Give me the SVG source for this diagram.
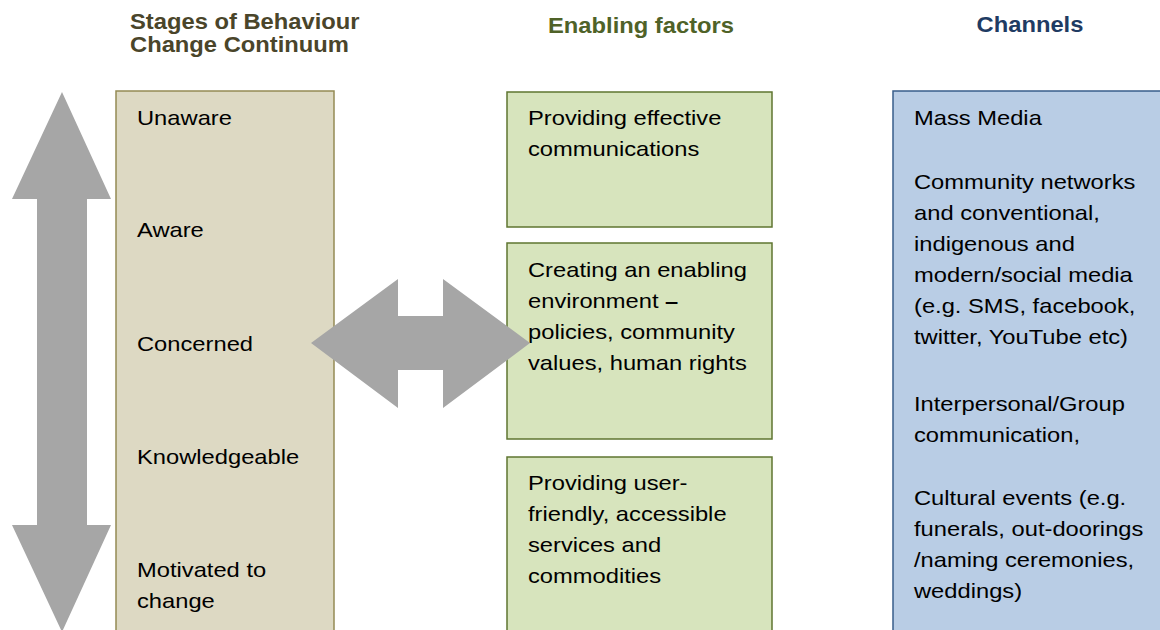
<svg xmlns="http://www.w3.org/2000/svg" width="1160" height="630" viewBox="0 0 1160 630">
<style>
.t{font-family:"Liberation Sans",Arial,sans-serif;font-size:21px;fill:#000}
.h{font-family:"Liberation Sans",Arial,sans-serif;font-size:22px;font-weight:bold}
.tan{fill:#ddd9c3;stroke:#948a54;stroke-width:1.5}
.grn{fill:#d7e4bd;stroke:#5f7530;stroke-width:1.5}
.blu{fill:#b9cde5;stroke:#385d8a;stroke-width:1.5}
.arr{fill:#a6a6a6;stroke:none}
</style>
<rect width="1160" height="630" fill="#fff"/>
<g id="headings">
  <g transform="translate(130,0) scale(1.08,1)">
    <text class="h" x="0" y="29" fill="#4a452a">Stages of Behaviour</text>
    <text class="h" x="0" y="52" fill="#4a452a">Change Continuum</text>
  </g>
  <g transform="translate(641,0) scale(1.08,1)">
    <text class="h" x="0" y="33" text-anchor="middle" fill="#4f6228">Enabling factors</text>
  </g>
  <g transform="translate(1030,0) scale(1.08,1)">
    <text class="h" x="0" y="32" text-anchor="middle" fill="#1f3b63">Channels</text>
  </g>
</g>
<g id="stages">
  <rect class="tan" x="116" y="91" width="218" height="560"/>
  <g transform="translate(137,0) scale(1.13,1)">
    <text class="t" x="0" y="125">Unaware</text>
    <text class="t" x="0" y="237">Aware</text>
    <text class="t" x="0" y="351">Concerned</text>
    <text class="t" x="0" y="464">Knowledgeable</text>
    <text class="t" x="0" y="577">Motivated to</text>
    <text class="t" x="0" y="608">change</text>
  </g>
</g>
<g id="factor1">
  <rect class="grn" x="507" y="92" width="265" height="135"/>
  <g transform="translate(528,0) scale(1.13,1)">
    <text class="t" x="0" y="125">Providing effective</text>
    <text class="t" x="0" y="156">communications</text>
  </g>
</g>
<g id="factor2">
  <rect class="grn" x="507" y="243" width="265" height="196"/>
  <g transform="translate(528,0) scale(1.13,1)">
    <text class="t" x="0" y="277">Creating an enabling</text>
    <text class="t" x="0" y="308">environment <tspan font-weight="bold">–</tspan></text>
    <text class="t" x="0" y="339">policies, community</text>
    <text class="t" x="0" y="370">values, human rights</text>
  </g>
</g>
<g id="factor3">
  <rect class="grn" x="507" y="457" width="265" height="200"/>
  <g transform="translate(528,0) scale(1.13,1)">
    <text class="t" x="0" y="490">Providing user-</text>
    <text class="t" x="0" y="521">friendly, accessible</text>
    <text class="t" x="0" y="552">services and</text>
    <text class="t" x="0" y="583">commodities</text>
  </g>
</g>
<g id="channels">
  <rect class="blu" x="893" y="91" width="300" height="560"/>
  <g transform="translate(914,0) scale(1.13,1)">
    <text class="t" x="0" y="125">Mass Media</text>
    <text class="t" x="0" y="189">Community networks</text>
    <text class="t" x="0" y="220">and conventional,</text>
    <text class="t" x="0" y="251">indigenous and</text>
    <text class="t" x="0" y="282">modern/social media</text>
    <text class="t" x="0" y="313">(e.g. SMS, facebook,</text>
    <text class="t" x="0" y="344">twitter, YouTube etc)</text>
    <text class="t" x="0" y="411">Interpersonal/Group</text>
    <text class="t" x="0" y="442">communication,</text>
    <text class="t" x="0" y="505">Cultural events (e.g.</text>
    <text class="t" x="0" y="536">funerals, out-doorings</text>
    <text class="t" x="0" y="567">/naming ceremonies,</text>
    <text class="t" x="0" y="598">weddings)</text>
  </g>
</g>
<g id="connectors">
  <polygon class="arr" points="62,92 111,199 87,199 87,525 111,525 62,632 12,525 37,525 37,199 12,199"/>
  <polygon class="arr" points="311,343 398,279 398,316 443,316 443,279 530,343 443,408 443,370 398,370 398,408"/>
</g>
</svg>
